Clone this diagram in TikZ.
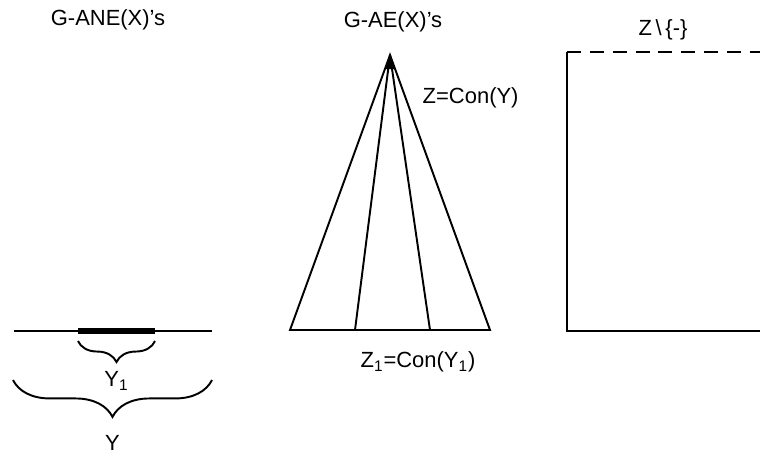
\documentclass[tikz,border=0pt]{standalone}
\usepackage{fontspec}
\setmainfont{Liberation Sans}
\usepackage{tikz}
\usetikzlibrary{decorations.pathreplacing,positioning,calc}

\begin{document}
\begin{tikzpicture}[x=0.02cm,y=-0.02cm,line width=1.1pt,
  lbl/.style={font=\fontsize{12.5}{14}\selectfont,inner sep=1pt},
  brc/.style={decorate,decoration={brace,mirror,amplitude=#1}}]
\useasboundingbox (0,0) rectangle (760,461);
% left: segment and its part
\node[lbl] (tl) at (108,20) {G-ANE(X)'s};
\coordinate (l0) at (14,331); \coordinate (l1) at (212,331);
\coordinate (s0) at (78,331); \coordinate (s1) at (155,331);
\draw (l0)--(l1);
\draw[line width=3pt] (s0)--(s1);
\draw[brc=12pt] ($(s0)+(0,10)$)--($(s1)+(0,10)$) node[midway,below=16pt,lbl] (y1) {Y\textsubscript{1}};
\draw[brc=21pt] (13,380)--(212,380) node[midway,below=30pt,lbl] (y) {Y};
% middle: cone
\node[lbl] (tm) at (393,22) {G-AE(X)'s};
\coordinate (a) at (390,55);
\coordinate (b0) at (290,330); \coordinate (b1) at (355,330);
\coordinate (b2) at (430,330); \coordinate (b3) at (490,330);
\draw (b0)--(a)--(b3)--cycle;
\draw (a)--(b1); \draw (a)--(b2);
\fill (a)--++(-5,14)--++(10,0)--cycle;
\node[lbl,anchor=west] (zc) at (420,98) {Z=Con(Y)};
\node[lbl] (z1) at (418,362) {Z\textsubscript{1}=Con(Y\textsubscript{1})};
% right: box
\node[lbl] (tr) at (663,30) {Z\,\textbackslash\,\{-\}};
\coordinate (r0) at (567,52); \coordinate (r1) at (567,331);
\draw (762,331)--(r1)--(r0);
\draw[dashed,dash pattern=on 8pt off 5pt] (r0)--(762,52);
\end{tikzpicture}
\end{document}
